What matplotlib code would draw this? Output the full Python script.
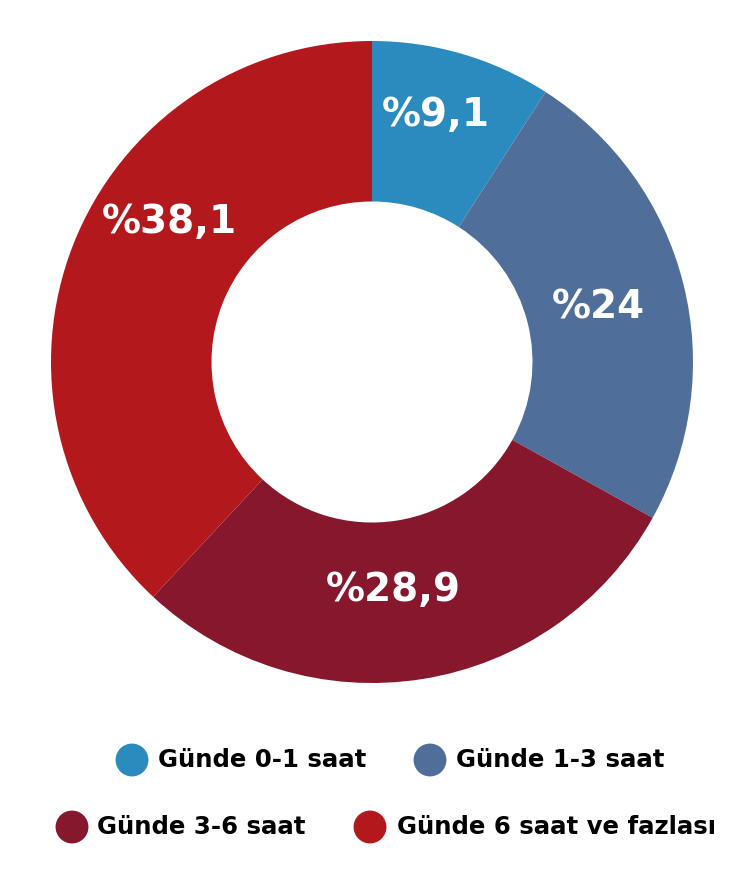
import matplotlib
matplotlib.use('Agg')
import matplotlib.pyplot as plt

# Chart data
categories = ['Günde 0-1 saat', 'Günde 1-3 saat', 'Günde 3-6 saat', 'Günde 6 saat ve fazlası']
values = [9.1, 24, 28.9, 38.1]
labels = ['%9,1', '%24', '%28,9', '%38,1']
colors = ['#2B8BBF', '#506E9A', '#86172C', '#B3191C']

# label spots inside the ring (axes units, radius 1)
label_xy = [(0.20, 0.77), (0.705, 0.17), (0.065, -0.71), (-0.63, 0.435)]

# legend layout in pixels: (circle x, text x, y)
legend_pos = [(132, 158, 760), (430, 456, 760), (72, 97, 827), (370, 397, 827)]

plt.rcParams['font.family'] = ['DejaVu Sans']

fig = plt.figure(figsize=(7.44, 8.76), dpi=100)
W, H = 744, 876
cx, cy, r = 372, 362, 321

ax = fig.add_axes([(cx - r) / W, (H - cy - r) / H, 2 * r / W, 2 * r / H])
ax.pie(values, colors=colors, startangle=90, counterclock=False, radius=1,
       wedgeprops=dict(width=0.5, edgecolor='none'))
for (x, y), lab in zip(label_xy, labels):
    ax.text(x, y, lab, ha='center', va='center', color='white',
            fontsize=28, fontweight='bold')
ax.set_xlim(-1, 1)
ax.set_ylim(-1, 1)
ax.set_aspect('equal')
ax.axis('off')

# legend drawn by hand
leg = fig.add_axes([0, 0, 1, 1])
leg.set_xlim(0, W)
leg.set_ylim(H, 0)
leg.axis('off')
for (px, tx, py), cat, col in zip(legend_pos, categories, colors):
    leg.scatter([px], [py], s=560, color=col, edgecolors='none')
    leg.text(tx, py, cat, ha='left', va='center', fontsize=17.6,
             fontweight='bold', color='black')

fig.savefig('out.png', dpi=100, facecolor='white')
